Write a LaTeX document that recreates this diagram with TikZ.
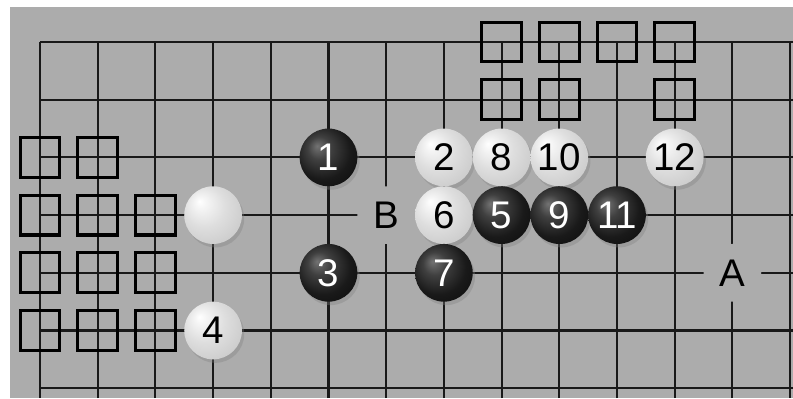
\documentclass[tikz,border=0pt]{standalone}
\usepackage{fontspec}
\setmainfont{Liberation Sans}
\usepackage{xcolor}
\usepackage{tikz}
\usetikzlibrary{shadows}
\definecolor{boardGray}{RGB}{172,172,172}
\definecolor{lineBlack}{RGB}{25,25,25}
\pgfdeclareradialshading{stoneBlack}{\pgfpoint{-10bp}{10bp}}{%
  color(0bp)=(black!55); color(10bp)=(black!75); color(24bp)=(black!90); color(50bp)=(black)}
\pgfdeclareradialshading{stoneWhite}{\pgfpoint{-12bp}{12bp}}{%
  color(0bp)=(white); color(5bp)=(black!4); color(18bp)=(black!13); color(34bp)=(black!21); color(50bp)=(black!34)}

\begin{document}
\begin{tikzpicture}[
    gridline/.style={draw=lineBlack, line width=1pt},
    stone/.style={circle, minimum size=1cm, inner sep=0pt, shade, font=\fontsize{19}{22}\selectfont,
        drop shadow={opacity=0.35, shadow xshift=0.04cm, shadow yshift=-0.06cm}},
    blackstone/.style={stone, shading=stoneBlack, text=white},
    whitestone/.style={stone, shading=stoneWhite, text=black},
    sqmark/.style={rectangle, draw=black, line width=1.5pt, minimum size=0.69cm, inner sep=0pt},
    letter/.style={circle, fill=boardGray, minimum size=1cm, inner sep=0pt, font=\fontsize{19}{22}\selectfont}
]
    \useasboundingbox (-0.693,-6.170) rectangle (13.050,0.728);
    
    % Board
    \fill[white] (-0.693,-6.170) rectangle (13.050,0.728);
    \fill[boardGray] (-0.52,-6.170) rectangle (13.050,0.607);
    \draw[gridline] (0,-6.170) grid (13.050,0);
    
    % Square marks - top
    \node[sqmark] (q80) at (8,0) {};
    \node[sqmark] (q90) at (9,0) {};
    \node[sqmark] (q100) at (10,0) {};
    \node[sqmark] (q110) at (11,0) {};
    \node[sqmark] (q81) at (8,-1) {};
    \node[sqmark] (q91) at (9,-1) {};
    \node[sqmark] (q111) at (11,-1) {};
    
    % Square marks - left side
    \node[sqmark] (q02) at (0,-2) {};
    \node[sqmark] (q12) at (1,-2) {};
    \node[sqmark] (q03) at (0,-3) {};
    \node[sqmark] (q13) at (1,-3) {};
    \node[sqmark] (q23) at (2,-3) {};
    \node[sqmark] (q04) at (0,-4) {};
    \node[sqmark] (q14) at (1,-4) {};
    \node[sqmark] (q24) at (2,-4) {};
    \node[sqmark] (q05) at (0,-5) {};
    \node[sqmark] (q15) at (1,-5) {};
    \node[sqmark] (q25) at (2,-5) {};
    
    % Letters
    \node[letter] (ptB) at (6,-3) {B};
    \node[letter] (ptA) at (12,-4) {A};
    
    % Stones
    \node[whitestone] (s0) at (3,-3) {};
    \node[blackstone] (s1) at (5,-2) {1};
    \node[whitestone] (s2) at (7,-2) {2};
    \node[blackstone] (s3) at (5,-4) {3};
    \node[whitestone] (s4) at (3,-5) {4};
    \node[whitestone] (s8) at (8,-2) {8};
    \node[whitestone] (s10) at (9,-2) {10};
    \node[whitestone] (s12) at (11,-2) {12};
    \node[whitestone] (s6) at (7,-3) {6};
    \node[blackstone] (s5) at (8,-3) {5};
    \node[blackstone] (s9) at (9,-3) {9};
    \node[blackstone] (s11) at (10,-3) {11};
    \node[blackstone] (s7) at (7,-4) {7};
\end{tikzpicture}
\end{document}
